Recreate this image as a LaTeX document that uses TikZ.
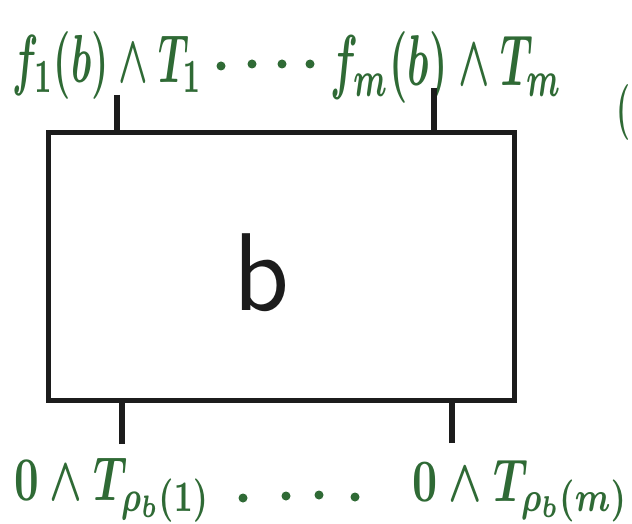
\documentclass[tikz,border=0pt]{standalone}
\usepackage{graphicx}
\definecolor{ink}{HTML}{2F6A35}
\definecolor{pen}{HTML}{1C1C1C}
\tikzset{
  lbl/.style={inner sep=0pt, text=ink},
  boxshape/.style={draw=pen, line width=5pt, inner sep=0pt, minimum width=466pt, minimum height=267pt},
  stub/.style={draw=pen, line width=5.5pt},
  dotmark/.style={circle, fill=ink, inner sep=0pt, minimum size=9pt}
}
\begin{document}
\begin{tikzpicture}[x=1pt,y=-1pt]
\useasboundingbox[fill=white] (0,0) rectangle (632,524);
% box
\node[boxshape] (box) at (281,266.5) {};
\node[inner sep=0pt, text=pen] (bl) at (262,273) {\resizebox*{56pt}{78pt}{\sffamily b}};
% top labels
\node[lbl, anchor=south west] (L1) at (12,100) {\resizebox*{190pt}{68pt}{\boldmath$f_1(b)\wedge T_1$}};
\node[lbl, anchor=south west] (L2) at (330,104) {\resizebox*{232pt}{72pt}{\boldmath$f_m(b)\wedge T_m$}};
% top dots
\node[dotmark] (d1) at (221,66) {};
\node[dotmark] (d2) at (252,64) {};
\node[dotmark] (d3) at (282,64) {};
\node[dotmark] (d4) at (310,64) {};
% parenthesis at right edge
\node[lbl, anchor=east] (rp) at (631,113) {\resizebox*{14pt}{56pt}{\boldmath$($}};
% bottom labels
\node[lbl, anchor=north west] (B1) at (14,458) {\resizebox*{196pt}{64pt}{\boldmath$0\wedge T_{\rho_b(1)}$}};
\node[lbl, anchor=north west] (B2) at (412,460) {\resizebox*{216pt}{62pt}{\boldmath$0\wedge T_{\rho_b(m)}$}};
% bottom dots
\node[dotmark] (e1) at (243,498) {};
\node[dotmark] (e2) at (286,496) {};
\node[dotmark] (e3) at (319,495) {};
\node[dotmark] (e4) at (355,497) {};
% stubs
\coordinate (s1) at (117,95);
\coordinate (s2) at (434,88);
\coordinate (s3) at (122,444);
\coordinate (s4) at (452,443);
\draw[stub] (s1) -- (s1 |- box.north);
\draw[stub] (s2) -- (s2 |- box.north);
\draw[stub] (s3) -- (s3 |- box.south);
\draw[stub] (s4) -- (s4 |- box.south);
\end{tikzpicture}
\end{document}
